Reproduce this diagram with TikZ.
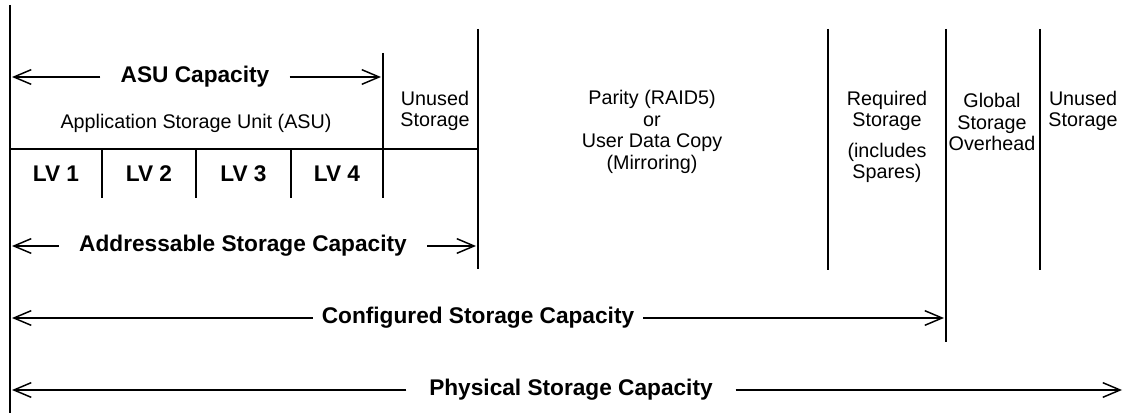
\documentclass[tikz,border=0pt]{standalone}
\usepackage{fontspec}
\setmainfont{Liberation Sans}
\usepackage{tikz}
\usetikzlibrary{arrows.meta}
\newcommand{\wallwidth}{1.5pt}
\newcommand{\arrowwidth}{1.1pt}
\newcommand{\plainsize}{\fontsize{14.8}{16.2}\selectfont}
\newcommand{\boldsize}{\fontsize{17}{20}\selectfont\bfseries}
\tikzset{
  wall/.style={line width=\wallwidth},
  capspan/.style={line width=\arrowwidth, -{Straight Barb[length=13pt,width=11pt,line width=\arrowwidth]}},
  blocktext/.style={font=\plainsize, align=center, inner sep=0pt},
  captext/.style={font=\boldsize, inner ysep=0pt, inner xsep=#1},
  captext/.default=15pt
}

\begin{document}
\begin{tikzpicture}[x=0.75pt, y=-0.75pt]
\useasboundingbox (0,0) rectangle (1125,413);
%walls
\coordinate (w0t) at (10,5);    \coordinate (w0b) at (10,413);
\coordinate (w1t) at (383,53);  \coordinate (w1b) at (383,198);
\coordinate (w2t) at (478,29);  \coordinate (w2b) at (478,269);
\coordinate (w3t) at (828,29);  \coordinate (w3b) at (828,270);
\coordinate (w4t) at (946,29);  \coordinate (w4b) at (946,342);
\coordinate (w5t) at (1040,29); \coordinate (w5b) at (1040,270);
\draw[wall] (w0t) -- (w0b);
\draw[wall] (w1t) -- (w1b);
\draw[wall] (w2t) -- (w2b);
\draw[wall] (w3t) -- (w3b);
\draw[wall] (w4t) -- (w4b);
\draw[wall] (w5t) -- (w5b);
%LV row
\coordinate (rowl) at (10,149);  \coordinate (rowr) at (478,149);
\coordinate (d1t) at (102,149);  \coordinate (d1b) at (102,198);
\coordinate (d2t) at (196,149);  \coordinate (d2b) at (196,198);
\coordinate (d3t) at (291,149);  \coordinate (d3b) at (291,198);
\draw[wall] (rowl) -- (rowr);
\draw[wall] (d1t) -- (d1b);
\draw[wall] (d2t) -- (d2b);
\draw[wall] (d3t) -- (d3b);
\node[captext=0pt] (lv1) at (56,173.5) {LV 1};
\node[captext=0pt] (lv2) at (149,173.5) {LV 2};
\node[captext=0pt] (lv3) at (243.5,173.5) {LV 3};
\node[captext=0pt] (lv4) at (337,173.5) {LV 4};
%blocks
\node[blocktext] (asu) at (196,123) {Application Storage Unit (ASU)};
\node[blocktext] (unused1) at (435,111) {Unused\\Storage};
\node[blocktext] (parity) at (652,132) {Parity (RAID5)\\or\\User Data Copy\\(Mirroring)};
\node[blocktext] (required) at (887,137) {Required\\Storage\\[6.5pt](includes\\Spares)};
\node[blocktext] (global) at (992,122) {Global\\Storage\\Overhead};
\node[blocktext] (unused2) at (1083,111) {Unused\\Storage};
%ASU
\node[captext] (asucap) at (195,77) {ASU Capacity};
\coordinate (asul) at (12,77); \coordinate (asur) at (381,77);
\draw[capspan] (asucap) -- (asul);
\draw[capspan] (asucap) -- (asur);
%addressable
\node[captext] (addrcap) at (243,246) {Addressable Storage Capacity};
\coordinate (addrl) at (12,246); \coordinate (addrr) at (476,246);
\draw[capspan] (addrcap) -- (addrl);
\draw[capspan] (addrcap) -- (addrr);
%configured
\node[captext=6.5pt] (confcap) at (478,318) {Configured Storage Capacity};
\coordinate (confl) at (12,318); \coordinate (confr) at (944,318);
\draw[capspan] (confcap) -- (confl);
\draw[capspan] (confcap) -- (confr);
%physical
\node[captext=17pt] (physcap) at (571,390) {Physical Storage Capacity};
\coordinate (physl) at (12,390); \coordinate (physr) at (1122,390);
\draw[capspan] (physcap) -- (physl);
\draw[capspan] (physcap) -- (physr);
\end{tikzpicture}
\end{document}
